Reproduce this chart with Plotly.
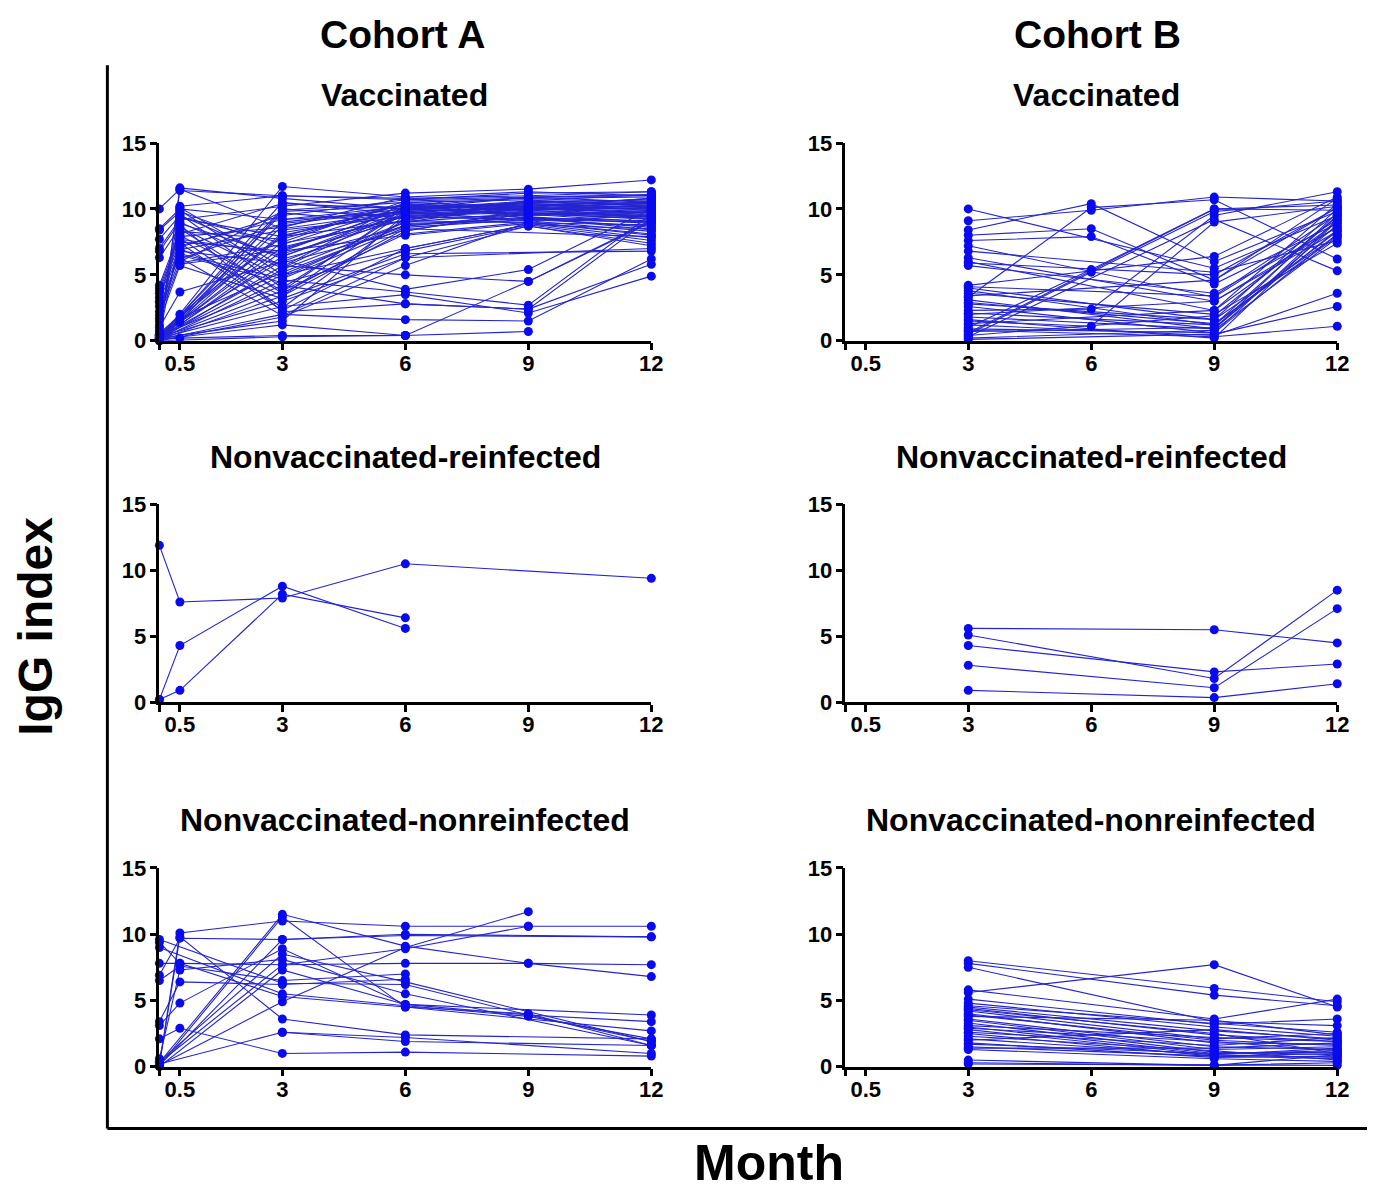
import plotly.graph_objects as go

W, H = 1375, 1195

# Month time points
months_A = [0, 0.5, 3, 6, 9, 12]
months_B = [3, 6, 9, 12]
months_B2 = [3, 9, 12]

x_tickvals = [0, 0.5, 3, 6, 9, 12]
x_ticktext = ["", "0.5", "3", "6", "9", "12"]
y_tickvals = [0, 5, 10, 15]
y_ticktext = ["0", "5", "10", "15"]

cohorts = ["Cohort A", "Cohort B"]
groups = ["Vaccinated", "Nonvaccinated-reinfected", "Nonvaccinated-nonreinfected"]

# Cohort A, vaccinated: IgG at months 0, 0.5, 3, 6, 9, 12 (None = not measured)
A_vac = [
    [0.2, 11.6, 10.8, 10.0, 10.3, 10.5],
    [0.5, 11.4, 11.0, 10.7, 11.2, 11.3],
    [10.0, 11.5, 8.5, 9.8, 10.1, 10.0],
    [8.5, 10.0, 9.2, 10.2, 10.9, 11.1],
    [8.4, 9.8, 7.0, 9.5, 9.9, 9.6],
    [7.7, 9.5, 6.2, 8.7, 9.6, 9.3],
    [7.0, 9.2, 10.2, 11.2, 11.5, 12.2],
    [6.8, 9.0, 5.5, 10.0, 10.6, 10.2],
    [6.3, 8.6, 4.8, 9.0, 10.3, 9.9],
    [4.2, 8.3, 7.7, 10.4, 9.3, 8.6],
    [4.0, 8.0, 3.8, 8.1, 9.0, 8.0],
    [3.8, 7.7, 6.6, 9.2, 10.1, 10.8],
    [3.6, 7.4, 2.3, 7.0, 8.8, 7.6],
    [3.3, 7.1, 9.5, 10.7, 10.9, 11.0],
    [3.0, 6.8, 5.9, 8.4, 9.6, 9.0],
    [2.6, 6.5, 4.4, 6.8, 8.7, 7.2],
    [2.2, 6.2, 8.9, 9.8, 10.2, 10.4],
    [1.9, 5.9, 7.3, 10.2, 10.0, 9.7],
    [1.5, 5.7, 3.2, 6.6, None, 6.8],
    [1.0, 3.7, 6.0, 9.5, 9.7, 9.4],
    [0.5, 2.0, 8.0, 9.9, 10.4, 10.1],
    [0.3, 1.7, 5.2, 8.7, 9.4, 8.9],
    [0.2, 1.4, 9.9, 10.5, 10.7, 10.6],
    [0.1, 0.2, 0.4, 0.4, 0.7, None],
    [0.1, None, 11.7, 10.9, 11.3, 11.0],
    [0.2, None, 10.5, 9.6, 9.8, 9.5],
    [0.3, None, 10.0, 9.3, 10.0, 10.3],
    [0.1, None, 9.7, 8.9, 9.1, 8.3],
    [0.4, None, 9.0, 10.0, 10.5, 10.7],
    [0.2, None, 8.7, 10.3, 9.5, 9.8],
    [0.1, None, 8.2, 9.7, 10.2, 9.2],
    [0.6, None, 7.9, 9.1, None, 8.8],
    [0.2, None, 7.5, 10.6, 10.8, 10.9],
    [0.3, None, 7.1, 9.4, 9.2, 9.0],
    [0.1, None, 6.8, 8.0, 8.9, 7.8],
    [0.2, None, 6.4, 9.9, 10.0, 10.2],
    [0.5, None, 6.1, 3.9, 5.4, 10.0],
    [0.1, None, 5.7, 5.0, 4.5, 9.1],
    [0.3, None, 5.4, 9.0, 9.7, 9.6],
    [0.2, None, 5.0, 7.0, 8.8, 8.5],
    [0.1, None, 4.6, 3.7, 2.7, 9.6],
    [0.4, None, 4.2, 2.8, 2.4, 5.8],
    [0.2, None, 3.8, 10.1, 10.3, 10.0],
    [0.1, None, 3.4, 8.3, 9.9, 9.4],
    [0.3, None, 3.0, 6.3, 8.7, 7.4],
    [0.2, None, 2.6, 3.5, 2.1, 4.9],
    [0.1, None, 2.0, 1.6, 1.5, 6.2],
    [0.0, None, 1.8, 5.7, 9.0, 8.1],
    [0.2, None, 1.5, 9.6, 10.6, 10.4],
    [0.1, None, 1.2, 0.4, 4.5, 9.0],
    [0.0, None, 0.3, 0.4, None, None],
    [None, 10.2, 11.0, 10.8, 11.0, 11.3],
    [None, 9.9, 5.0, 8.8, 9.3, 9.1],
    [None, 9.6, 4.0, 9.9, 10.5, 10.3],
    [None, 9.3, 7.9, 10.4, 9.9, 10.6],
    [None, 8.9, 6.4, 9.6, 10.1, 9.7],
    [None, 8.5, 3.6, 8.5, None, 7.9],
    [None, 8.1, 10.4, 10.0, 10.9, 10.5],
    [None, 7.8, 2.5, 9.3, 9.5, 9.9],
    [None, 7.5, 6.8, 10.1, 10.2, 10.8],
    [None, 7.2, 9.2, 9.7, 9.7, 9.2],
    [None, 6.9, 8.4, 9.4, 10.0, 10.0],
    [None, 6.6, 4.7, 8.6, 9.2, 8.7],
    [None, 6.3, 1.9, 6.3, None, 7.0],
    [None, 6.0, 9.8, 10.2, 10.4, 10.1],
    [None, 5.8, 6.9, 10.0, 9.6, 9.5],
    [1.2, 10.1, 5.6, 10.5, 10.1, 9.8],
    [0.8, 9.4, 7.4, 9.1, 10.6, 11.1],
    [2.9, 8.8, 2.2, 2.8, 2.4, 9.3],
    [0.4, 7.9, 8.6, 10.9, 9.4, 8.4],
    [1.7, 7.0, 3.4, 9.8, 9.1, 9.5],
]

# Cohort A, nonvaccinated-reinfected: months 0, 0.5, 3, 6, 9, 12
A_re = [
    [11.9, 7.6, 7.9, 10.5, None, 9.4],
    [0.2, 4.3, 8.8, 5.6, None, None],
    [0.2, 0.9, 8.2, 6.4, None, None],
]

# Cohort A, nonvaccinated-nonreinfected: months 0, 0.5, 3, 6, 9, 12
A_non = [
    [0.2, 10.1, 11.0, 10.6, 10.6, 10.6],
    [0.1, 9.8, 3.6, 2.4, None, 2.1],
    [9.6, None, 6.3, 6.2, 3.9, 1.9],
    [9.0, None, 5.5, 4.6, 3.8, 2.1],
    [7.8, 7.8, 7.7, 7.8, 7.8, 7.7],
    [6.9, 9.7, 9.6, 10.0, None, 9.8],
    [6.5, 7.6, 6.5, 7.0, None, None],
    [3.4, 6.4, 6.2, 6.6, None, None],
    [3.1, 4.8, 8.9, 4.7, 3.9, 3.4],
    [2.1, 2.9, 1.0, 1.1, None, 0.8],
    [0.6, 7.3, 8.1, 5.5, None, 1.6],
    [0.3, None, 11.5, 9.1, 7.8, 6.8],
    [0.1, None, 11.3, 4.5, None, 2.7],
    [0.1, None, 4.9, 9.0, 11.7, None],
    [0.2, None, 2.6, 2.2, None, 1.0],
    [0.4, None, 8.5, 6.4, None, 1.9],
    [0.0, None, 7.3, 4.7, None, 3.9],
    [0.1, None, 9.6, 9.9, None, 9.8],
    [0.3, None, 7.7, 8.9, 10.6, None],
    [None, None, 2.6, 1.9, None, 1.6],
    [9.4, 7.8, 5.3, 4.5, 4.0, 1.6],
]

# Cohort B, vaccinated: months 3, 6, 9, 12
B_vac = [
    [10.0, None, 5.5, 9.5],
    [9.1, 9.9, 10.9, 10.6],
    [8.4, 10.4, 6.0, 9.8],
    [8.0, 8.5, 4.6, 10.1],
    [7.6, 7.9, 4.3, 8.9],
    [7.2, None, 3.3, 9.2],
    [6.8, None, 5.2, 7.6],
    [6.3, None, 3.0, 8.3],
    [6.0, None, 2.3, 10.4],
    [5.7, None, 3.6, 8.6],
    [4.2, None, 6.4, 10.9],
    [4.0, None, 1.6, 8.0],
    [3.8, None, 1.2, 9.5],
    [3.6, None, 2.0, 7.4],
    [3.3, 10.1, 10.7, 6.2],
    [3.1, None, 0.9, 8.8],
    [2.8, None, 1.6, 10.0],
    [2.6, None, 0.6, 9.2],
    [2.3, 2.4, 9.5, 11.3],
    [2.1, None, 1.2, 8.3],
    [1.8, None, 0.9, 9.7],
    [1.5, 1.1, 9.0, 10.2],
    [1.2, None, 0.4, 3.6],
    [1.0, 5.4, 10.0, 9.9],
    [0.8, None, 0.3, 1.1],
    [0.5, 5.2, 9.8, 10.6],
    [0.3, None, 9.2, 5.3],
    [0.1, None, 0.5, 2.6],
    [0.6, None, 10.0, 10.3],
    [0.2, None, 0.8, 7.8],
    [1.3, None, 2.3, 9.0],
    [2.0, None, 3.0, 8.6],
    [0.4, None, 1.9, 9.4],
    [3.4, None, 4.6, 10.8],
    [0.9, None, 0.6, 8.1],
    [2.9, None, 1.3, 7.9],
    [1.6, None, 0.2, 9.1],
    [5.9, None, 5.0, 10.1],
    [4.1, None, 3.4, 9.6],
    [0.7, None, 1.0, 8.4],
]

# Cohort B, nonvaccinated-reinfected: months 3, 9, 12
B_re = [
    [5.6, 5.5, 4.5],
    [5.1, 1.8, 8.5],
    [4.3, 2.3, 2.9],
    [2.8, 1.1, 7.1],
    [0.9, 0.35, 1.4],
]

# Cohort B, nonvaccinated-nonreinfected: months 3, 9, 12
B_non = [
    [8.0, 5.9, 4.9],
    [7.8, 5.4, 4.6],
    [7.5, 3.4, 3.1],
    [5.6, 7.7, 4.5],
    [5.8, 3.6, 5.1],
    [5.1, 3.2, 3.6],
    [4.8, 3.0, 2.3],
    [4.5, 2.7, 2.1],
    [4.4, 2.4, 1.9],
    [4.2, 2.1, 2.5],
    [4.0, 1.8, 1.7],
    [3.8, 3.5, 2.4],
    [3.6, 1.5, 1.3],
    [3.5, 1.3, 1.5],
    [3.3, 1.1, 0.9],
    [3.1, 2.2, 1.9],
    [3.0, 1.0, 1.1],
    [2.8, 0.9, 0.7],
    [2.6, 1.6, 2.2],
    [2.5, 0.8, 1.0],
    [2.3, 1.2, 0.5],
    [2.1, 0.9, 1.4],
    [2.0, 2.8, 2.0],
    [1.8, 0.7, 0.8],
    [1.7, 1.0, 1.2],
    [1.5, 0.8, 0.6],
    [1.4, 1.4, 1.8],
    [1.3, 0.6, 0.4],
    [4.6, 3.3, 2.6],
    [3.9, 2.0, 1.6],
    [0.5, 0.1, 0.3],
    [0.3, 0.1, 0.9],
    [0.2, 0.1, 0.1],
    [2.9, 1.9, 1.2],
    [4.3, 2.5, 1.0],
]

panels = [
    # (data, months, row, col)
    (A_vac, months_A, 0, 0),
    (B_vac, months_B, 0, 1),
    (A_re, months_A, 1, 0),
    (B_re, months_B2, 1, 1),
    (A_non, months_A, 2, 0),
    (B_non, months_B2, 2, 1),
]

FONT = "Liberation Sans, Arial, sans-serif"
BLUE = "#0a0af0"
LINE = "#2424d0"

# Observed page transform (rendered px = a * target px + b); invert it
AX, BX = 0.9914, 8.6
AY, BY = 0.9805, 19.8


def PX(px):
    return ((px - BX) / AX) / W


def PY(py):
    return 1 - ((py - BY) / AY) / H


# pixel geometry in the reference
col_px = [(160, 652), (846, 1338)]
row_px = [(143, 341), (505, 703), (869, 1068)]

fig = go.Figure()
layout = dict(
    width=W, height=H,
    margin=dict(l=0, r=0, t=0, b=0),
    paper_bgcolor="white", plot_bgcolor="white",
    showlegend=False,
)

for i, (data, months, r, c) in enumerate(panels):
    k = i + 1
    xs, ys = [], []
    for subj in data:
        for t, v in zip(months, subj):
            if v is not None:
                xs.append(t)
                ys.append(v)
        xs.append(None)
        ys.append(None)
    fig.add_trace(go.Scatter(
        x=xs, y=ys, mode="lines+markers",
        line=dict(color=LINE, width=1.1),
        marker=dict(color=BLUE, size=9),
        connectgaps=False, cliponaxis=False,
        xaxis="x" if k == 1 else f"x{k}",
        yaxis="y" if k == 1 else f"y{k}",
        hoverinfo="skip",
    ))
    x0, x1 = col_px[c]
    yt, yb = row_px[r]
    ax_common = dict(
        showline=True, linecolor="black", linewidth=2.5,
        ticks="outside", ticklen=7, tickwidth=2.5, tickcolor="black",
        showgrid=False, zeroline=False,
        tickfont=dict(family=FONT, size=22, color="black", weight="bold"),
        fixedrange=True,
    )
    xname = "xaxis" if k == 1 else f"xaxis{k}"
    yname = "yaxis" if k == 1 else f"yaxis{k}"
    layout[xname] = dict(
        ax_common, domain=[PX(x0), PX(x1)], range=[0, 12],
        tickmode="array", tickvals=x_tickvals, ticktext=x_ticktext,
        anchor="y" if k == 1 else f"y{k}",
        ticklabelstandoff=-6,
    )
    layout[yname] = dict(
        ax_common, domain=[PY(yb), PY(yt)], range=[0, 15],
        tickmode="array", tickvals=y_tickvals, ticktext=y_ticktext,
        anchor="x" if k == 1 else f"x{k}",
        ticklabelstandoff=-1,
    )

fig.update_layout(**layout)

annotations = []


def ann(text, px, py, size, angle=0):
    annotations.append(dict(
        text=f"<b>{text}</b>", x=PX(px), y=PY(py), xref="paper", yref="paper",
        xanchor="center", yanchor="middle", showarrow=False, textangle=angle,
        font=dict(family=FONT, size=size, color="black"),
    ))


ann(cohorts[0], 403, 34, 39)
ann(cohorts[1], 1098, 34, 39)
sub_pos = [[(405, 95), (1097, 95)], [(406, 457), (1092, 457)], [(406, 821), (1092, 821)]]
for r, g in enumerate(groups):
    for c in range(2):
        px, py = sub_pos[r][c]
        ann(g, px, py, 32)
ann("IgG index", 36, 627, 48, angle=-90)
ann("Month", 770, 1164, 50)
fig.update_layout(annotations=annotations)

fig.add_shape(type="line", xref="paper", yref="paper",
              x0=PX(108), x1=PX(108), y0=PY(65), y1=PY(1130),
              line=dict(color="black", width=3))
fig.add_shape(type="line", xref="paper", yref="paper",
              x0=PX(108), x1=PX(1368), y0=PY(1130), y1=PY(1130),
              line=dict(color="black", width=3))

fig.write_html("out.html")
